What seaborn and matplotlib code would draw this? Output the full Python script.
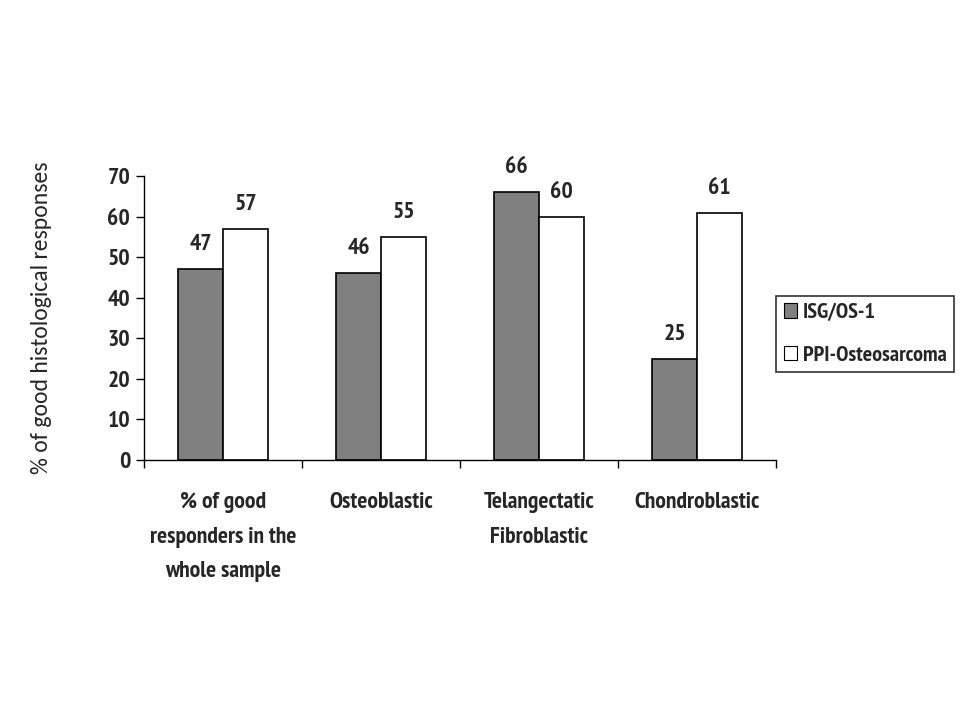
import matplotlib
matplotlib.use("Agg")
import matplotlib.pyplot as plt
import seaborn as sns
import pandas as pd
from matplotlib.patches import Patch

categories = ["% of good\nresponders in the\nwhole sample", "Osteoblastic",
              "Telangectatic\nFibroblastic", "Chondroblastic"]
series_names = ["ISG/OS-1", "PPI-Osteosarcoma"]
isg_values = [47, 46, 66, 25]
ppi_values = [57, 55, 60, 61]
yticks = [0, 10, 20, 30, 40, 50, 60, 70]
colors = ["#808080", "#ffffff"]

sns.set_theme(style="white")
NARROW = ['PT Sans Narrow', 'Carlito', 'DejaVu Sans']
plt.rcParams['font.family'] = NARROW

df = pd.DataFrame({
    "category": categories * 2,
    "series": [series_names[0]] * 4 + [series_names[1]] * 4,
    "value": isg_values + ppi_values,
})

fig = plt.figure(figsize=(9.6, 7.2), dpi=100)
ax = fig.add_axes([144/960, 1-460/720, (776-144)/960, (460-176)/720])

sns.barplot(data=df, x="category", y="value", hue="series", palette=colors,
            edgecolor="black", linewidth=1.2, width=0.57, ax=ax, legend=False,
            saturation=1)

for cont in ax.containers:
    ax.bar_label(cont, fmt="%d", padding=10, fontsize=17, fontweight="bold")

ax.set_ylim(0, 70)
ax.set_xlim(-0.5, 3.5)
ax.set_yticks(yticks)
ax.set_yticklabels([str(t) for t in yticks], fontsize=17, fontweight="bold")
ax.set_xticks(range(4))
ax.set_xticklabels(categories, fontsize=17, fontweight="bold", linespacing=1.85, va="top")
ax.tick_params(axis="x", length=0, pad=23)
ax.tick_params(axis="y", length=6, width=1, direction="out", color="black", left=True, pad=4)
ax.set_xticks([-0.5, 0.5, 1.5, 2.5, 3.5], minor=True)
ax.tick_params(axis="x", which="minor", length=6, width=1, direction="out", color="black", bottom=True)

for s in ["top", "right"]:
    ax.spines[s].set_visible(False)
for s in ["left", "bottom"]:
    ax.spines[s].set_color("black")
    ax.spines[s].set_linewidth(1)

ax.set_xlabel("")
ax.set_ylabel("% of good histological responses", fontsize=17, labelpad=40,
              family=['Carlito', 'DejaVu Sans'])

handles = [Patch(facecolor=colors[0], edgecolor="black", linewidth=0.8),
           Patch(facecolor=colors[1], edgecolor="black", linewidth=0.8)]
leg = fig.legend(handles, series_names, loc="center left",
                 bbox_to_anchor=(776/960, 1-334/720), frameon=True, fancybox=False,
                 edgecolor="black", prop={"family": NARROW, "weight": "bold", "size": 16},
                 handlelength=0.6, handleheight=0.6, handletextpad=0.25,
                 labelspacing=1.05, borderpad=0.35, borderaxespad=0)
leg.get_frame().set_linewidth(1.2)

fig.savefig("out.png", dpi=100)
